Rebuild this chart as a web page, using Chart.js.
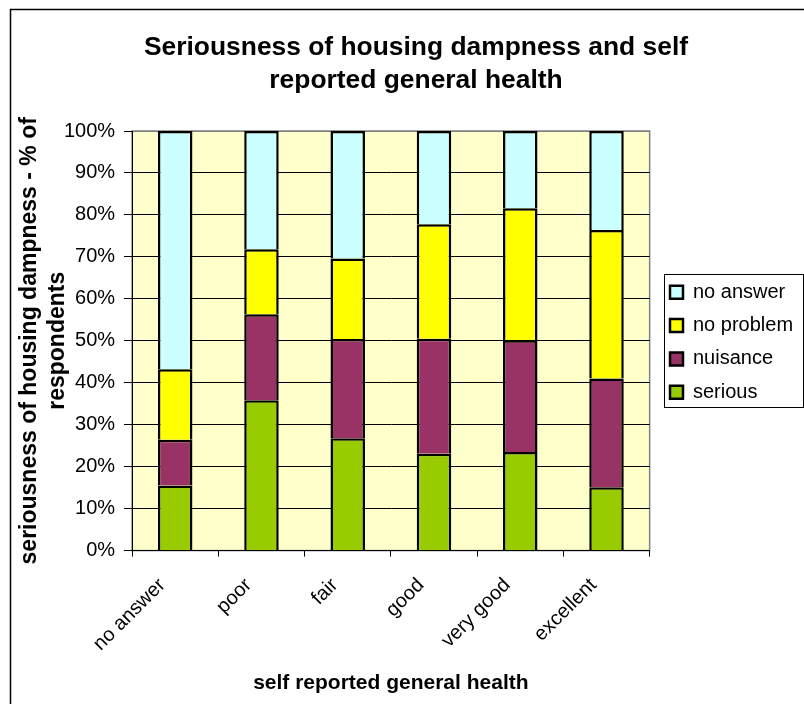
<!DOCTYPE html>
<html><head><meta charset="utf-8">
<script src="https://cdn.jsdelivr.net/npm/chart.js@4/dist/chart.umd.min.js"></script>
<style>html,body{margin:0;padding:0;background:#fff}#wrap{width:804px;height:704px;position:relative}</style>
</head><body><div id="wrap"><canvas id="c" width="804" height="704"></canvas></div>
<script>
const categories = ['no answer', 'poor', 'fair', 'good', 'very good', 'excellent'];
const seriesNames = ['serious', 'nuisance', 'no problem', 'no answer'];
const serious   = [15.5, 35.8, 26.8, 23.1, 23.5, 15.1];
const nuisance  = [10.9, 20.5, 23.6, 27.4, 26.6, 25.9];
const noProblem = [16.8, 15.5, 19.2, 27.3, 31.5, 35.4];
const noAnswer  = [56.8, 28.2, 30.4, 22.2, 18.4, 23.6];
const yTickLabels = ['0%', '10%', '20%', '30%', '40%', '50%', '60%', '70%', '80%', '90%', '100%'];
const chartTitle = ['Seriousness of housing dampness and self', 'reported general health'];
const xTitle = 'self reported general health';
const yTitle = ['seriousness of housing dampness - % of', 'respondents'];

Chart.defaults.font.family = "'Liberation Sans', Arial, sans-serif";
Chart.defaults.color = '#000';

const frame = {
  id: 'frame',
  afterLayout(chart) {
    const t = chart.titleBlock;
    t.left += 18; t.right += 18;
    const lg = chart.legend;
    const w = lg.width, h = lg.height;
    lg.left = 656.7; lg.right = lg.left + w;
    lg.top = 269; lg.bottom = lg.top + h;
  },
  beforeDraw(chart) {
    const {ctx, chartArea: a} = chart;
    ctx.save();
    ctx.fillStyle = '#fff';
    ctx.fillRect(0, 0, chart.width, chart.height);
    ctx.fillStyle = '#FFFFCC';
    ctx.fillRect(a.left, a.top, a.right - a.left, a.bottom - a.top);
    ctx.strokeStyle = '#808080';
    ctx.lineWidth = 1.5;
    ctx.strokeRect(a.left, a.top, a.right - a.left, a.bottom - a.top);
    ctx.strokeStyle = '#000';
    ctx.lineWidth = 1.5;
    ctx.strokeRect(10.5, 9.5, 900, 900);
    ctx.restore();
  },
  afterDraw(chart) {
    const ctx = chart.ctx;
    ctx.save();
    ctx.strokeStyle = '#000';
    ctx.lineWidth = 1;
    ctx.strokeRect(664.5, 274.5, 139, 133);
    ctx.restore();
  }
};

new Chart(document.getElementById('c'), {
  type: 'bar',
  data: {
    labels: categories,
    datasets: [
      {label: seriesNames[0], data: serious,   backgroundColor: '#99CC00'},
      {label: seriesNames[1], data: nuisance,  backgroundColor: '#993366'},
      {label: seriesNames[2], data: noProblem, backgroundColor: '#FFFF00'},
      {label: seriesNames[3], data: noAnswer,  backgroundColor: '#CCFFFF'}
    ]
  },
  options: {
    responsive: false,
    animation: false,
    devicePixelRatio: 1,
    datasets: {bar: {borderColor: '#000', borderWidth: 2.5, categoryPercentage: 1, barPercentage: 0.4}},
    layout: {padding: {left: 0, right: 8, top: 0, bottom: 0}},
    scales: {
      x: {
        stacked: true,
        grid: {drawOnChartArea: false, drawTicks: true, tickLength: 6, color: '#000', offset: true},
        border: {color: '#000', width: 1},
        ticks: {minRotation: 45, maxRotation: 45, autoSkip: false, font: {size: 20}, padding: 17, labelOffset: -13, color: '#000'},
        title: {display: true, text: xTitle, font: {size: 21, weight: 'bold'}, padding: {top: -2, bottom: 8}, color: '#000'}
      },
      y: {
        stacked: true,
        min: 0, max: 100,
        ticks: {stepSize: 10, callback: (v, i) => yTickLabels[i], font: {size: 20}, padding: 9, color: '#000'},
        grid: {color: c => (c.tick && c.tick.value === 100 ? '#808080' : '#000'), tickColor: '#000', tickLength: 8, lineWidth: 1},
        border: {color: '#000', width: 1},
        title: {display: true, text: yTitle, font: {size: 23, weight: 'bold', lineHeight: 1.22}, padding: {top: 16, bottom: -17.2}, color: '#000'}
      }
    },
    plugins: {
      title: {display: true, text: chartTitle, font: {size: 26.4, weight: 'bold', lineHeight: 1.25}, padding: {top: 31, bottom: 34}, color: '#000'},
      legend: {position: 'right', reverse: true, align: 'start',
        labels: {boxWidth: 13, boxHeight: 13, padding: 13.3, font: {size: 20}, color: '#000'}},
      tooltip: {enabled: false}
    }
  },
  plugins: [frame]
});
</script>
</body></html>
